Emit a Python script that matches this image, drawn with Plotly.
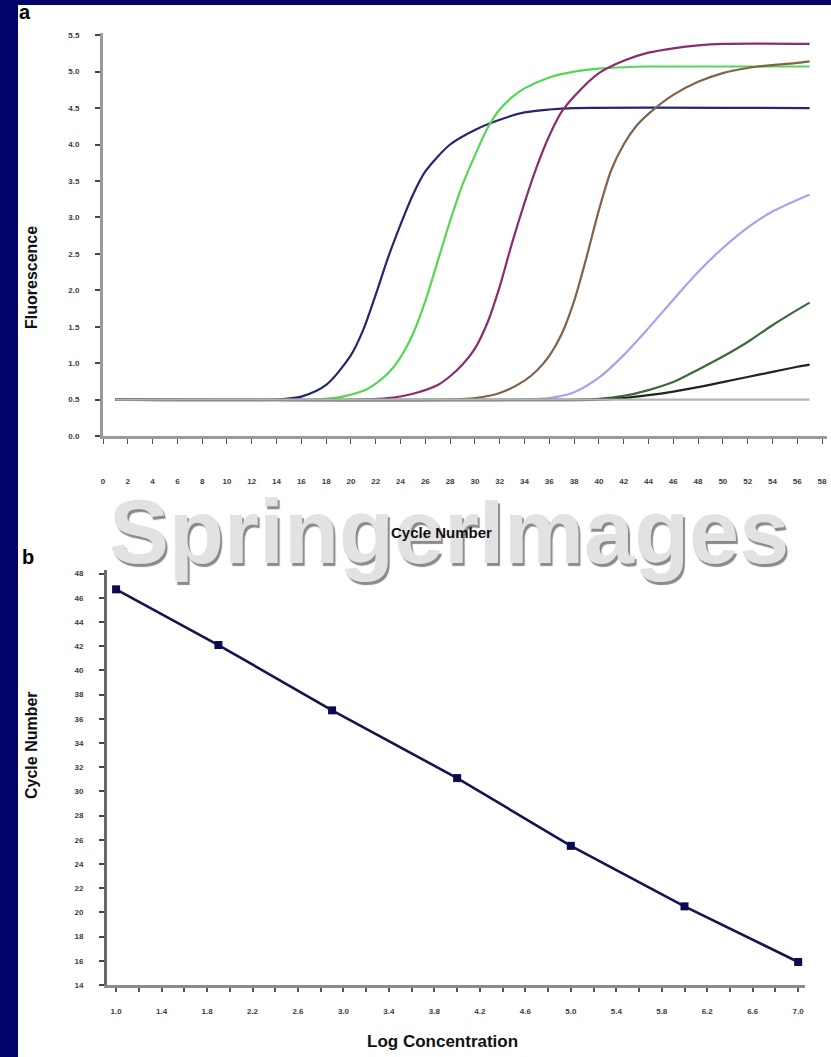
import plotly.graph_objects as go

W, H = 831, 1057

# ---------------- Panel a: amplification curves ----------------
x_ticks_a = list(range(0, 60, 2))
x_ticktext_a = [str(v) for v in x_ticks_a]
y_ticks_a = [0.0, 0.5, 1.0, 1.5, 2.0, 2.5, 3.0, 3.5, 4.0, 4.5, 5.0, 5.5]
y_ticktext_a = ["0.0", "0.5", "1.0", "1.5", "2.0", "2.5", "3.0", "3.5", "4.0", "4.5", "5.0", "5.5"]

cyc_navy = [1, 14, 16, 18, 20, 21, 22, 23, 24, 25, 26, 28, 30, 32, 34, 36, 38, 57]
flu_navy = [0.5, 0.5, 0.54, 0.70, 1.11, 1.46, 1.94, 2.45, 2.90, 3.31, 3.63, 4.00, 4.20, 4.34, 4.44, 4.48, 4.50, 4.50]

cyc_green = [1, 17, 19, 21, 22, 23, 24, 25, 26, 27, 28, 29, 30, 31, 32, 33, 34, 36, 38, 40, 42, 44, 57]
flu_green = [0.5, 0.5, 0.53, 0.62, 0.72, 0.86, 1.08, 1.40, 1.85, 2.40, 2.95, 3.45, 3.85, 4.22, 4.48, 4.65, 4.77, 4.92, 5.00, 5.04, 5.06, 5.07, 5.07]

cyc_magenta = [1, 21, 23, 25, 27, 28, 29, 30, 31, 32, 33, 34, 35, 36, 37, 38, 40, 42, 44, 46, 48, 50, 57]
flu_magenta = [0.5, 0.5, 0.52, 0.58, 0.70, 0.82, 0.98, 1.20, 1.55, 2.05, 2.65, 3.20, 3.70, 4.12, 4.45, 4.66, 4.98, 5.15, 5.26, 5.32, 5.36, 5.38, 5.38]

cyc_brown = [1, 28, 30, 32, 34, 35, 36, 37, 38, 39, 40, 41, 42, 43, 44, 46, 48, 50, 52, 54, 56, 57]
flu_brown = [0.5, 0.5, 0.52, 0.59, 0.76, 0.90, 1.10, 1.40, 1.85, 2.45, 3.10, 3.65, 4.00, 4.25, 4.42, 4.68, 4.86, 4.98, 5.05, 5.09, 5.12, 5.14]

cyc_lilac = [1, 34, 36, 38, 40, 42, 44, 46, 48, 50, 52, 54, 56, 57]
flu_lilac = [0.5, 0.5, 0.52, 0.60, 0.80, 1.11, 1.48, 1.87, 2.25, 2.58, 2.86, 3.08, 3.24, 3.31]

cyc_dkgreen = [1, 38, 40, 42, 44, 46, 48, 50, 52, 54, 56, 57]
flu_dkgreen = [0.5, 0.5, 0.51, 0.55, 0.63, 0.74, 0.91, 1.09, 1.29, 1.52, 1.73, 1.83]

cyc_black = [1, 40, 42, 44, 46, 48, 50, 52, 54, 56, 57]
flu_black = [0.5, 0.5, 0.52, 0.56, 0.61, 0.67, 0.74, 0.81, 0.88, 0.95, 0.98]

cyc_gray = [1, 57]
flu_gray = [0.5, 0.5]

# ---------------- Panel b: standard curve ----------------
log_conc = [1.0, 1.9, 2.9, 4.0, 5.0, 6.0, 7.0]
cycle_no = [46.7, 42.1, 36.7, 31.1, 25.5, 20.5, 15.9]
x_ticks_b = [1.0, 1.4, 1.8, 2.2, 2.6, 3.0, 3.4, 3.8, 4.2, 4.6, 5.0, 5.4, 5.8, 6.2, 6.6, 7.0]
x_ticktext_b = ["1.0", "1.4", "1.8", "2.2", "2.6", "3.0", "3.4", "3.8", "4.2", "4.6",
                "5.0", "5.4", "5.8", "6.2", "6.6", "7.0"]
y_ticks_b = list(range(14, 50, 2))
y_ticktext_b = [str(v) for v in y_ticks_b]

NAVY_BG = "#03036a"


def fx(px):
    return px / W


def fy(py):
    return 1 - py / H


fig = go.Figure()

series_a = [
    (cyc_navy, flu_navy, "#26266f"),
    (cyc_green, flu_green, "#52d852"),
    (cyc_magenta, flu_magenta, "#8a2c70"),
    (cyc_brown, flu_brown, "#80634a"),
    (cyc_lilac, flu_lilac, "#a3a3ee"),
    (cyc_dkgreen, flu_dkgreen, "#3d6a3d"),
    (cyc_black, flu_black, "#222222"),
    (cyc_gray, flu_gray, "#b4b4b4"),
]
for cx, cy, col in series_a:
    fig.add_trace(go.Scatter(x=cx, y=cy, mode="lines", xaxis="x", yaxis="y",
                             line=dict(color=col, width=2.2, shape="spline", smoothing=0.8),
                             hoverinfo="skip", showlegend=False))

fig.add_trace(go.Scatter(x=log_conc, y=cycle_no, mode="lines+markers", xaxis="x2", yaxis="y2",
                         line=dict(color="#141450", width=2.6),
                         marker=dict(symbol="square", size=8, color="#0a0a50"),
                         hoverinfo="skip", showlegend=False))

tickfont = dict(family="Liberation Sans", size=8, color="#3c3c3c", weight="bold")

fig.update_layout(
    width=W, height=H, autosize=False,
    margin=dict(l=0, r=0, t=0, b=0, autoexpand=False),
    paper_bgcolor=NAVY_BG, plot_bgcolor="rgba(0,0,0,0)",
    showlegend=False,
    xaxis=dict(domain=[fx(103), fx(827)], range=[0, 58.4], anchor="y",
               tickvals=x_ticks_a, ticktext=x_ticktext_a, tickfont=tickfont,
               ticks="outside", ticklen=5, tickcolor="#555", tickwidth=1,
               showline=True, linecolor="#9a9a9a", linewidth=3,
               showgrid=False, zeroline=False, ticklabelstandoff=30),
    yaxis=dict(domain=[fy(436), fy(33)], range=[0, 5.53], anchor="x",
               tickvals=y_ticks_a, ticktext=y_ticktext_a, tickfont=tickfont,
               ticks="outside", ticklen=5, tickcolor="#444", tickwidth=2,
               showline=True, linecolor="#9a9a9a", linewidth=3,
               showgrid=False, zeroline=False, ticklabelstandoff=14),
    xaxis2=dict(domain=[fx(107), fx(805)], range=[0.92, 7.06], anchor="y2",
                tickvals=x_ticks_b, ticktext=x_ticktext_b, tickfont=tickfont,
                ticks="outside", ticklen=4, tickcolor="#555", tickwidth=2,
                minor=dict(dtick=0.2, tick0=1.0, ticks="outside", ticklen=4, tickcolor="#555"),
                showline=True, linecolor="#8a8a8a", linewidth=3,
                showgrid=False, zeroline=False, ticklabelstandoff=12),
    yaxis2=dict(domain=[fy(985), fy(570)], range=[14, 48.3], anchor="x2",
                tickvals=y_ticks_b, ticktext=y_ticktext_b, tickfont=tickfont,
                ticks="outside", ticklen=5, tickcolor="#444", tickwidth=2,
                showline=True, linecolor="#6a6a6a", linewidth=3,
                showgrid=False, zeroline=False, ticklabelstandoff=14),
    shapes=[dict(type="rect", xref="paper", yref="paper", layer="below",
                 x0=fx(18), x1=1.02, y0=-0.02, y1=fy(5),
                 fillcolor="white", line=dict(width=0))],
)

annotations = [
    # watermark
    dict(text="SpringerImages", x=fx(449), y=fy(532), xref="paper", yref="paper",
         showarrow=False, xanchor="center", yanchor="middle",
         font=dict(family="Liberation Sans", size=90,
                   color="#e2e2e2", weight="bold", shadow="2px 3px 1px #8a8a8a")),
    dict(text="a", x=fx(25), y=fy(12), xref="paper", yref="paper", showarrow=False,
         xanchor="center", yanchor="middle",
         font=dict(family="Liberation Sans", size=20, color="black", weight="bold")),
    dict(text="b", x=fx(28), y=fy(557), xref="paper", yref="paper", showarrow=False,
         xanchor="center", yanchor="middle",
         font=dict(family="Liberation Sans", size=20, color="black", weight="bold")),
    dict(text="Fluorescence", x=fx(31), y=fy(278), xref="paper", yref="paper", showarrow=False,
         xanchor="center", yanchor="middle", textangle=-90,
         font=dict(family="Liberation Sans", size=16, color="#111", weight="bold")),
    dict(text="Cycle Number", x=fx(441), y=fy(532), xref="paper", yref="paper", showarrow=False,
         xanchor="center", yanchor="middle",
         font=dict(family="Liberation Sans", size=15, color="#111", weight="bold")),
    dict(text="Cycle Number", x=fx(31), y=fy(745), xref="paper", yref="paper", showarrow=False,
         xanchor="center", yanchor="middle", textangle=-90,
         font=dict(family="Liberation Sans", size=16, color="#111", weight="bold")),
    dict(text="Log Concentration", x=fx(443), y=fy(1041), xref="paper", yref="paper", showarrow=False,
         xanchor="center", yanchor="middle",
         font=dict(family="Liberation Sans", size=17, color="#111", weight="bold")),
]
fig.update_layout(annotations=annotations)

fig.write_html("out.html", config={"displayModeBar": False},
               post_script="document.body.style.margin='0';document.body.style.overflow='hidden';")
